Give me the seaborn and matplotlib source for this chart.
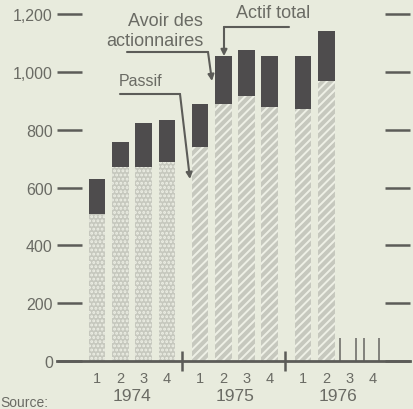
import numpy as np
import pandas as pd
import matplotlib
matplotlib.use("Agg")
import matplotlib.pyplot as plt
import matplotlib.transforms as mtransforms
import seaborn as sns

# ---- data ----
years = ["1974", "1975", "1976"]
quarter_labels = ["1", "2", "3", "4"]
bar_year = ["1974"] * 4 + ["1975"] * 4 + ["1976"] * 2
bar_quarter = [1, 2, 3, 4, 1, 2, 3, 4, 1, 2]
actif_total = [630, 758, 822, 834, 889, 1055, 1076, 1055, 1055, 1142]
passif = [510, 670, 672, 690, 740, 889, 917, 879, 872, 969]
ytick_values = [0, 200, 400, 600, 800, 1000, 1200]
ytick_labels = ["0", "200", "400", "600", "800", "1,000", "1,200"]

# ---- layout helpers ----
YEAR_STEP = 4.42
def qpos(year, q):
    return years.index(year) * YEAR_STEP + (q - 1)

df = pd.DataFrame({
    "year": bar_year,
    "quarter": bar_quarter,
    "total": actif_total,
    "passif": passif,
})
df["pos"] = [qpos(y, q) for y, q in zip(df["year"], df["quarter"])]

BG = "#e8ebdd"
DARK = "#4e4c4d"
LIGHT = "#c6c8be"
TXT = "#6a6b64"
LINE = "#5c5c58"

sns.set_theme(style="white")
plt.rcParams["font.family"] = ["Liberation Sans", "DejaVu Sans"]
plt.rcParams["hatch.linewidth"] = 1.4

fig = plt.figure(figsize=(4.14, 4.10), dpi=100, facecolor=BG)
ax = fig.add_axes([57 / 414, 48 / 410, 353 / 414, 362 / 410], facecolor=BG)

sns.barplot(data=df, x="pos", y="total", native_scale=True, color=DARK,
            saturation=1, width=0.72, errorbar=None, linewidth=0, ax=ax)
sns.barplot(data=df, x="pos", y="passif", native_scale=True, color=LIGHT,
            saturation=1, width=0.72, errorbar=None, linewidth=0,
            edgecolor="#eef0e6", ax=ax)
for patch, yr in zip(ax.containers[1], df["year"]):
    patch.set_hatch("...." if yr == "1974" else "////")
    patch.set_linewidth(0)

xmin = (57 - 97) / 23.3
xmax = (410 - 97) / 23.3
ax.set_xlim(xmin, xmax)
ax.set_ylim(0, 362 * 200 / 57.8)

for s in ["top", "left", "right"]:
    ax.spines[s].set_visible(False)
ax.spines["bottom"].set_color(LINE)
ax.spines["bottom"].set_linewidth(2)

# y ticks: dashes on both sides, labels on the left only
ax.set_yticks(ytick_values)
ax.set_yticklabels(ytick_labels)
ax.tick_params(axis="y", which="both", left=True, right=True, direction="in",
               length=18, width=1.8, color=LINE, labelsize=11.5,
               labelcolor=TXT, pad=3)

# x ticks: quarter numbers
xt = [qpos(y, int(q)) for y in years for q in quarter_labels]
ax.set_xticks(xt)
ax.set_xticklabels(quarter_labels * len(years))
ax.tick_params(axis="x", length=0, labelsize=10.5, labelcolor=TXT, pad=7)
ax.set_xlabel("")
ax.set_ylabel("")

trans = mtransforms.blended_transform_factory(ax.transData, ax.transAxes)
for i, y in enumerate(years):
    ax.text(i * YEAR_STEP + 1.5, -0.095, y, transform=trans, ha="center",
            va="center", fontsize=12.5, color=TXT)
# year separators
for i in range(1, len(years)):
    xs = i * YEAR_STEP - 0.77
    ax.vlines(xs, -35, 35, color=LINE, lw=1.8, clip_on=False)
# faint marks at empty 1976 quarters
for xm in [10.43, 11.1, 11.46, 12.1]:
    ax.vlines(xm, 0, 80, color="#7a7a74", lw=1.3)

fig.text(0.0, 0.018, "Source:", fontsize=10, color=TXT, ha="left", va="center")

# ---- annotations ----
def px2d(px, py):
    return ((px - 97) / 23.3, (362 - py) * 200 / 57.8)

ap = dict(arrowstyle="-|>", color=LINE, lw=1.5, mutation_scale=9,
          shrinkA=0, shrinkB=0)

# Avoir des actionnaires
ax.text(*px2d(165, 22), "Avoir des", ha="center", va="center", fontsize=13, color=TXT)
ax.text(*px2d(155, 42), "actionnaires", ha="center", va="center", fontsize=13, color=TXT)
a0, a1 = px2d(127, 53), px2d(208, 53)
ax.plot([a0[0], a1[0]], [a0[1], a1[1]], color=LINE, lw=1.5)
ax.annotate("", xy=px2d(212, 82), xytext=a1, arrowprops=ap)

# Actif total
ax.text(*px2d(273, 14), "Actif total", ha="center", va="center", fontsize=13, color=TXT)
b0, b1 = px2d(289, 28), px2d(224, 28)
ax.plot([b0[0], b1[0]], [b0[1], b1[1]], color=LINE, lw=1.5)
ax.annotate("", xy=(b1[0], actif_total[5]), xytext=b1, arrowprops=ap)

# Passif
ax.text(*px2d(141, 82), "Passif", ha="center", va="center", fontsize=11.5, color=TXT)
c0, c1 = px2d(120, 95), px2d(180, 95)
ax.plot([c0[0], c1[0]], [c0[1], c1[1]], color=LINE, lw=1.5)
ax.annotate("", xy=px2d(190, 180), xytext=c1, arrowprops=ap)

fig.savefig("out.png", dpi=100, facecolor=BG)
